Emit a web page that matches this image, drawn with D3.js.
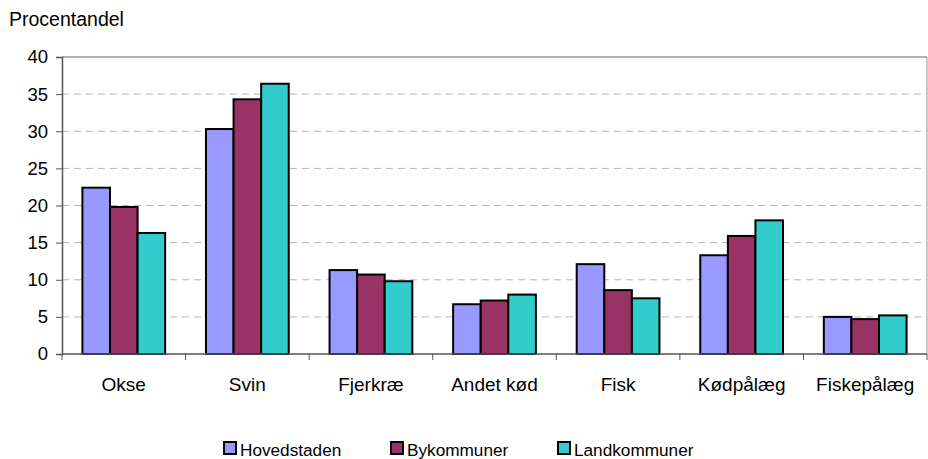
<!DOCTYPE html>
<html>
<head>
<meta charset="utf-8">
<script src="https://cdn.jsdelivr.net/npm/d3@7"></script>
<style>
  body { margin: 0; background: #fff; }
  svg { display: block; font-family: "Liberation Sans", Arial, sans-serif; }
</style>
</head>
<body>
<div class="chart"></div>
<script>
// data
let categories = ["Okse", "Svin", "Fjerkræ", "Andet kød", "Fisk", "Kødpålæg", "Fiskepålæg"];
let seriesNames = ["Hovedstaden", "Bykommuner", "Landkommuner"];
let hovedstaden = [22.4, 30.3, 11.3, 6.7, 12.1, 13.3, 5.0];
let bykommuner = [19.8, 34.3, 10.7, 7.2, 8.6, 15.9, 4.7];
let landkommuner = [16.3, 36.4, 9.8, 8.0, 7.5, 18.0, 5.2];
let yTicks = [0, 5, 10, 15, 20, 25, 30, 35, 40];
let colors = ["#9999FF", "#993366", "#33CCCC"];

let w = 928, h = 459;
let plotL = 62, plotR = 927, plotT = 57, plotB = 354;

let svg = d3.select(".chart").append("svg")
    .attr("width", w)
    .attr("height", h);

let x0 = d3.scaleBand().domain(categories).range([plotL, plotR]).paddingInner(0).paddingOuter(0);
let x1 = d3.scaleBand().domain(seriesNames).range([0, x0.bandwidth()]).paddingOuter(0.74);
let y = d3.scaleLinear().domain([0, 40]).range([plotB, plotT]);

// grid
svg.append("g").selectAll("line")
    .data(yTicks.filter(d => d > 0 && d < 40))
    .enter().append("line")
    .attr("x1", plotL).attr("x2", plotR)
    .attr("y1", d => y(d)).attr("y2", d => y(d))
    .attr("stroke", "#b4b4b4")
    .attr("stroke-width", 1)
    .attr("stroke-dasharray", "7,5");

// plot border top / right
svg.append("line").attr("x1", plotL).attr("x2", plotR).attr("y1", y(40)).attr("y2", y(40))
    .attr("stroke", "#999").attr("stroke-width", 1.5);
svg.append("line").attr("x1", plotR).attr("x2", plotR).attr("y1", y(40)).attr("y2", y(0))
    .attr("stroke", "#999").attr("stroke-width", 1);

let rows = categories.map((c, i) => ({
    cat: c,
    vals: [hovedstaden[i], bykommuner[i], landkommuner[i]]
}));

let groups = svg.append("g").selectAll("g")
    .data(rows)
    .enter().append("g")
    .attr("transform", d => "translate(" + x0(d.cat) + ",0)");

groups.selectAll("rect")
    .data(d => d.vals.map((v, j) => ({ key: seriesNames[j], v: v, j: j })))
    .enter().append("rect")
    .attr("x", d => x1(d.key))
    .attr("y", d => y(d.v))
    .attr("width", x1.bandwidth())
    .attr("height", d => y(0) - y(d.v))
    .attr("fill", d => colors[d.j])
    .attr("stroke", "#000")
    .attr("stroke-width", 2);

// y axis
let yAxis = svg.append("g")
    .attr("transform", "translate(" + plotL + ",0)")
    .call(d3.axisLeft(y).tickValues(yTicks).tickSize(6).tickPadding(8));
yAxis.select(".domain").attr("stroke", "#555").attr("stroke-width", 1.5);
yAxis.selectAll(".tick line").attr("stroke", "#555");
yAxis.selectAll("text").attr("font-size", "18.5px").attr("fill", "#000")
    .attr("font-family", "'Liberation Sans', Arial, sans-serif");

// x axis
let xAxis = svg.append("g").attr("transform", "translate(0," + plotB + ")");
xAxis.append("line").attr("x1", plotL).attr("x2", plotR)
    .attr("stroke", "#555").attr("stroke-width", 1.5);
xAxis.selectAll(".xt")
    .data(categories.map(c => x0(c)).concat([plotR]))
    .enter().append("line")
    .attr("class", "xt")
    .attr("x1", d => d).attr("x2", d => d)
    .attr("y1", 0).attr("y2", 6)
    .attr("stroke", "#555");
xAxis.selectAll(".xl")
    .data(categories)
    .enter().append("text")
    .attr("class", "xl")
    .attr("x", d => x0(d) + x0.bandwidth() / 2)
    .attr("y", 36.5)
    .attr("text-anchor", "middle")
    .attr("font-size", "19px")
    .text(d => d);

// y title
svg.append("text")
    .attr("x", 9).attr("y", 25.5)
    .attr("font-size", "19.5px")
    .text("Procentandel");

// legend
let legendX = [224, 391, 558];
let legend = svg.append("g").selectAll("g")
    .data(seriesNames)
    .enter().append("g")
    .attr("transform", (d, i) => "translate(" + legendX[i] + ",442)");
legend.append("rect")
    .attr("width", 12).attr("height", 12)
    .attr("fill", (d, i) => colors[i])
    .attr("stroke", "#000").attr("stroke-width", 2);
legend.append("text")
    .attr("x", 16).attr("y", 13.5)
    .attr("font-size", "17.2px")
    .text(d => d);
</script>
</body>
</html>
